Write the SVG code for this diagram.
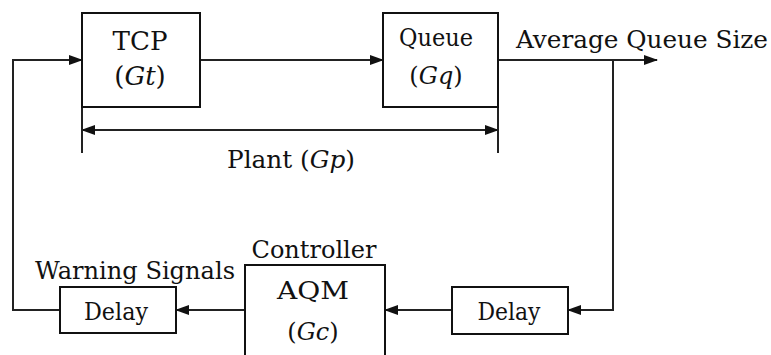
<svg xmlns="http://www.w3.org/2000/svg" width="771" height="355" viewBox="0 0 771 355">
<defs>
<marker id="ah" viewBox="0 0 14 10" refX="13" refY="5" markerWidth="14" markerHeight="10" markerUnits="userSpaceOnUse" orient="auto-start-reverse">
<path d="M0,0 L14,5 L0,10 Z" fill="#111"/>
</marker>
<style>
.box{fill:#fff;stroke:#111;stroke-width:2}
.ln{fill:none;stroke:#222;stroke-width:2}
.c{text-anchor:middle}
.i{font-style:italic}
text{font-family:'DejaVu Serif','Liberation Serif',serif;font-size:24px;fill:#111}
</style>
</defs>
<rect width="771" height="355" fill="#fff"/>
<g id="connectors">
<line class="ln" x1="200" y1="60" x2="383" y2="60" marker-end="url(#ah)"/>
<line class="ln" x1="498" y1="60" x2="657" y2="60" marker-end="url(#ah)"/>
<path class="ln" d="M613,60 V310 H568" marker-end="url(#ah)"/>
<line class="ln" x1="452" y1="310" x2="385" y2="310" marker-end="url(#ah)"/>
<line class="ln" x1="245" y1="310" x2="176" y2="310" marker-end="url(#ah)"/>
<path class="ln" d="M60,310 H13 V60 H82" marker-end="url(#ah)"/>
<line class="ln" x1="82" y1="130" x2="498" y2="130" marker-start="url(#ah)" marker-end="url(#ah)"/>
<line class="ln" x1="82" y1="107" x2="82" y2="153"/>
<line class="ln" x1="498" y1="107" x2="498" y2="153"/>
</g>
<g id="tcp">
<rect class="box" x="82" y="13" width="118" height="94"/>
<text class="c" x="140" y="50" style="font-size:26px" textLength="55" lengthAdjust="spacingAndGlyphs">TCP</text>
<text class="c" x="140" y="85" style="font-size:26px">(<tspan class="i">Gt</tspan>)</text>
</g>
<g id="queue">
<rect class="box" x="383" y="13" width="115" height="94"/>
<text class="c" x="436" y="46" textLength="74" lengthAdjust="spacingAndGlyphs">Queue</text>
<text class="c" x="436" y="84">(<tspan class="i">Gq</tspan>)</text>
</g>
<g id="output-label">
<text x="516" y="48" textLength="252" lengthAdjust="spacingAndGlyphs">Average Queue Size</text>
</g>
<g id="plant-label">
<text x="227" y="168" textLength="128" lengthAdjust="spacingAndGlyphs">Plant (<tspan class="i">Gp</tspan>)</text>
</g>
<g id="delay-right">
<rect class="box" x="452" y="287" width="116" height="47"/>
<text class="c" x="509" y="320" textLength="63" lengthAdjust="spacingAndGlyphs">Delay</text>
</g>
<g id="controller">
<rect class="box" x="245" y="265" width="140" height="100"/>
<text class="c" x="314" y="258" textLength="125" lengthAdjust="spacingAndGlyphs">Controller</text>
<text class="c" x="313" y="299" textLength="72" lengthAdjust="spacingAndGlyphs">AQM</text>
<text class="c" x="313" y="340">(<tspan class="i">Gc</tspan>)</text>
</g>
<g id="delay-left">
<rect class="box" x="60" y="287" width="116" height="46"/>
<text class="c" x="116" y="320" textLength="64" lengthAdjust="spacingAndGlyphs">Delay</text>
<text x="35" y="279" textLength="200" lengthAdjust="spacingAndGlyphs">Warning Signals</text>
</g>
</svg>
